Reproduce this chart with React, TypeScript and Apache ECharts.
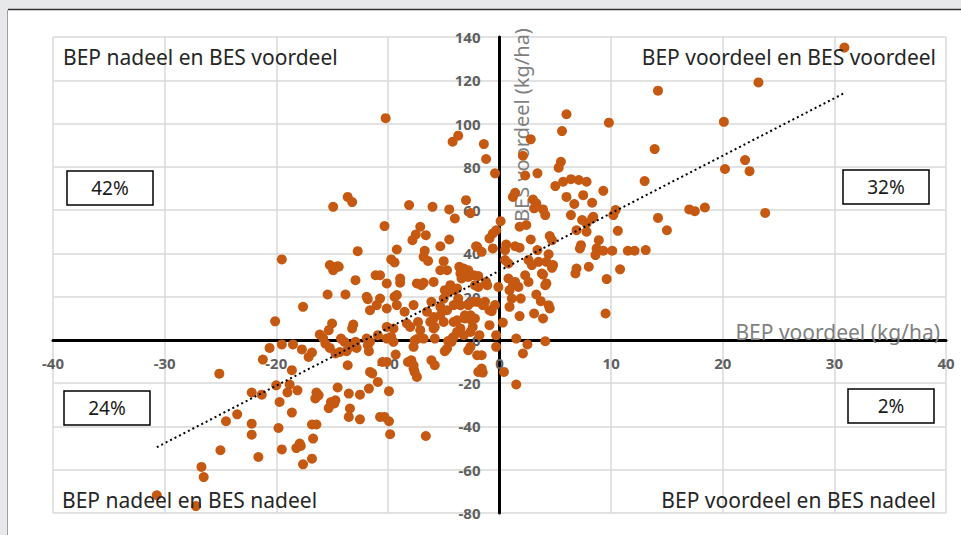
import React, { useEffect, useRef } from "react";
import * as echarts from "echarts";

// BEP voordeel (x, kg/ha) and BES voordeel (y, kg/ha)
const pointsTopRight: [number, number][] = [
  [30.9, 135.1], [23.2, 119.0], [14.2, 115.2], [6.0, 104.3], [9.8, 100.4], [20.1, 100.8], [5.6, 96.5], [2.8, 92.7],
  [13.9, 88.2], [22.0, 83.1], [22.4, 78.0], [20.2, 79.0], [5.5, 82.3], [5.3, 79.6], [3.4, 77.0], [2.1, 85.1],
  [2.3, 76.0], [5.7, 73.1], [6.4, 74.3], [7.1, 73.9], [7.8, 73.1], [5.0, 71.1], [9.3, 68.9], [13.0, 73.4],
  [6.0, 66.1], [7.5, 66.9], [1.4, 68.0], [1.2, 66.1], [3.0, 64.9], [3.3, 63.1], [3.1, 60.8], [3.9, 60.3],
  [4.1, 57.7], [6.7, 62.8], [8.3, 63.4], [6.4, 57.7], [10.4, 60.0], [10.2, 57.7], [17.0, 60.3], [17.5, 59.5],
  [18.4, 61.2], [23.8, 58.7], [14.2, 56.4], [15.0, 50.7], [10.6, 50.4], [0.1, 54.9], [1.8, 52.3], [2.4, 53.1],
  [4.5, 48.0], [7.4, 55.4], [7.8, 53.8], [8.3, 56.1], [6.9, 50.7], [7.8, 50.0], [7.3, 43.8], [7.2, 42.3],
  [8.7, 42.3], [8.9, 46.1], [9.3, 41.2], [10.1, 41.2], [11.5, 41.2], [12.1, 41.2], [13.1, 41.5], [2.8, 46.4],
  [1.4, 43.3], [1.8, 42.6], [0.6, 44.1], [4.4, 39.6], [3.4, 41.5], [4.8, 34.6], [8.0, 33.8], [6.9, 33.0],
  [10.8, 32.6], [6.8, 30.7], [9.6, 28.1], [9.5, 12.2], [4.7, 33.3], [3.9, 30.2], [4.1, 25.3], [3.3, 21.0],
  [3.7, 17.9], [4.4, 16.0], [4.5, 14.5], [3.9, 9.9], [3.1, 12.2], [1.8, 11.0], [1.5, 0.6], [0.3, 8.0],
  [1.2, 25.3], [0.8, 28.4], [1.7, 24.5], [1.1, 19.1], [1.9, 19.1], [0.9, 15.3], [2.6, 26.8], [2.3, 29.9],
  [4.7, 46.1], [8.6, 39.2], [4.2, 36.1], [2.6, 36.9], [2.9, 34.6], [3.5, 36.1], [0.5, 41.5], [0.5, 36.9],
  [0.8, 35.3], [3.8, 30.7], [4.2, 26.1], [1.4, 26.8], [0.9, 23.0], [8.4, 56.9],
];

const pointsTopLeft: [number, number][] = [
  [-10.2, 102.5], [-4.2, 91.6], [-3.7, 94.4], [-1.4, 90.5], [-1.2, 83.6], [-0.4, 77.0], [-14.9, 61.5], [-13.6, 66.1],
  [-13.2, 63.7], [-8.1, 62.3], [-6.0, 61.5], [-4.5, 60.3], [-4.0, 56.1], [-3.0, 64.6], [-2.6, 58.6], [-10.3, 52.6],
  [-7.1, 52.3], [-7.5, 48.7], [-6.6, 48.4], [-7.8, 46.1], [-4.5, 46.4], [-5.3, 43.3], [-12.7, 41.0], [-9.2, 41.8],
  [-6.7, 41.2], [-6.8, 38.4], [-6.4, 36.5], [-9.7, 37.2], [-9.4, 35.8], [-5.0, 36.4], [-2.1, 43.3], [-19.5, 37.2],
  [-15.2, 34.6], [-14.5, 34.1], [-3.6, 33.8], [-0.6, 49.2], [-0.3, 50.7], [-0.9, 46.9], [-0.6, 42.3], [-2.0, 43.0],
  [-1.6, 40.7], [-8.9, 28.4], [-8.9, 26.4], [-10.1, 26.1], [-7.4, 26.1], [-7.0, 25.3], [-6.8, 26.4], [-5.9, 26.8],
  [-5.3, 32.2], [-4.7, 32.2], [-3.2, 33.0], [-3.5, 30.7], [-2.8, 32.2], [-3.4, 28.4], [-2.8, 29.1], [-2.3, 29.9],
  [-1.9, 29.5], [-1.2, 26.8], [-1.1, 25.3], [-0.1, 24.5], [-4.4, 25.3], [-4.9, 23.0], [-4.1, 23.0], [-10.7, 29.9],
  [-1.9, 24.5], [-14.4, 33.8], [-14.9, 32.2], [-12.9, 27.6], [-11.1, 29.9], [-15.4, 21.0], [-13.8, 21.0], [-11.9, 19.9],
  [-11.8, 18.8], [-11.6, 13.7], [-11.0, 16.1], [-17.6, 15.3], [-20.1, 8.6], [-15.0, 7.6], [-15.3, 4.5], [-13.1, 7.1],
  [-13.2, 5.3], [-16.1, 2.5], [-15.8, 0.9], [-14.2, 0.6], [-11.9, 0.6], [-10.1, 6.0], [-10.9, 2.2], [-9.7, 1.4],
  [-10.7, 19.1], [-10.1, 14.5], [-9.2, 16.1], [-9.2, 20.7], [-8.5, 13.0], [-7.7, 16.1], [-6.5, 13.0], [-5.9, 10.6],
  [-5.3, 11.4], [-4.7, 13.7], [-8.0, 6.0], [-8.3, 7.6], [-7.3, 8.3], [-6.2, 8.3], [-5.9, 5.3], [-7.1, 4.5],
  [-7.4, 0.4], [-5.0, 19.1], [-4.6, 22.2], [-3.8, 23.8], [-3.7, 19.1], [-3.5, 16.0], [-4.1, 8.3], [-3.5, 5.3],
  [-3.1, 11.4], [-2.5, 9.1], [-2.4, 17.6], [-2.2, 25.3], [-2.9, 31.5], [-4.1, 1.4], [-5.8, 0.6], [-9.4, 19.9],
  [-6.1, 17.6], [-5.3, 15.3], [-4.1, 16.1], [-2.8, 16.1], [-2.0, 17.6], [-1.5, 16.1], [-0.9, 13.7], [-0.4, 16.1],
  [-0.9, 6.8], [-0.3, 2.2], [-1.3, 17.6], [-0.7, 13.3], [-9.5, 5.3], [-5.9, 9.9], [-5.8, 6.0], [-5.0, 8.3],
  [-3.8, 9.1], [-3.1, 9.9], [-2.6, 11.4], [-2.2, 9.9], [-2.4, 6.0], [-3.8, 3.7], [-3.2, 2.2], [-2.6, 3.7],
  [-1.8, 2.2], [-10.1, 0.6], [-6.8, 0.6], [-4.2, 0.9],
];

const pointsBottomLeft: [number, number][] = [
  [-15.6, -1.7], [-15.2, -3.7], [-13.9, -0.9], [-13.7, -5.2], [-13.4, -3.2], [-14.3, -5.6], [-14.7, -6.3], [-12.9, -0.9],
  [-12.8, -3.7], [-11.8, -2.5], [-11.7, -5.2], [-11.6, -0.9], [-20.6, -3.7], [-19.5, -2.1], [-18.5, -2.1], [-17.7, -4.4],
  [-16.8, -5.8], [-17.1, -7.9], [-21.2, -9.1], [-18.6, -14.0], [-13.6, -11.7], [-11.6, -14.8], [-11.4, -15.5], [-20.0, -21.0],
  [-18.8, -20.6], [-19.0, -24.3], [-18.1, -23.3], [-21.3, -25.3], [-22.2, -24.3], [-19.7, -28.7], [-14.5, -22.0], [-16.4, -24.3],
  [-16.2, -25.6], [-16.5, -27.1], [-13.5, -24.8], [-12.5, -25.3], [-11.7, -22.5], [-15.1, -28.7], [-14.7, -27.9], [-15.3, -31.5],
  [-14.8, -29.4], [-13.4, -31.7], [-13.5, -35.6], [-12.5, -36.7], [-18.6, -33.6], [-22.2, -38.7], [-22.2, -43.8], [-19.8, -40.7],
  [-16.8, -39.1], [-16.4, -39.1], [-16.7, -45.6], [-17.9, -47.9], [-25.1, -15.6], [-23.5, -34.4], [-24.5, -37.6], [-25.0, -51.0],
  [-21.6, -54.1], [-19.5, -50.6], [-18.2, -50.0], [-17.8, -49.0], [-17.6, -57.5], [-16.8, -54.9], [-26.7, -58.7], [-26.5, -63.4],
  [-30.7, -71.8], [-27.2, -76.8], [-10.9, -19.4], [-9.9, -23.7], [-10.7, -35.6], [-10.3, -35.6], [-9.9, -37.6], [-9.8, -43.6],
  [-6.6, -44.4], [-10.5, -10.2], [-10.1, -10.2], [-9.3, -6.8], [-8.2, -10.2], [-7.7, -13.2], [-7.4, -17.1], [-7.9, -9.4],
  [-6.1, -9.4], [-5.8, -11.7], [-9.5, -0.9], [-7.7, -3.2], [-4.7, -4.0], [-4.9, -5.2], [-4.3, -0.9], [-2.8, -4.8],
  [-2.6, -3.2], [-1.9, -14.8], [-0.3, -3.2], [-1.6, -7.1], [-1.5, -15.1], [-7.7, -11.7], [-7.6, -14.8], [-2.0, -7.1],
  [-1.6, -13.2], [-4.6, -0.5], [-7.6, -0.3],
];

const pointsBottomRight: [number, number][] = [
  [4.1, -0.6], [2.5, -2.1], [2.1, -6.3], [1.5, -20.6], [0.4, -14.8],
];

// Linear trend line end points
const trendX = [-30.7, 30.9];
const trendY = [-49.6, 114.1];

// Axis ranges
const xMin = -40, xMax = 40, xStep = 10;
const yMin = -80, yMax = 140, yStep = 20;

const quadrantTitles = [
  "BEP nadeel en BES voordeel",
  "BEP voordeel en BES voordeel",
  "BEP nadeel en BES nadeel",
  "BEP voordeel en BES nadeel",
];
const quadrantShares = ["42%", "32%", "24%", "2%"];
const xAxisTitle = "BEP voordeel (kg/ha)";
const yAxisTitle = "BES voordeel (kg/ha)";

const FONT = "Noto Sans";
const W = 961, H = 535;
const GRID = { left: 53, right: 15, top: 37, bottom: 22 };

export default function App() {
  const ref = useRef<HTMLDivElement>(null);
  useEffect(() => {
    if (!ref.current) return;
    const chart = echarts.init(ref.current, null, { renderer: "svg" });
    const points = [...pointsTopLeft, ...pointsTopRight, ...pointsBottomLeft, ...pointsBottomRight];
    const trend = trendX.map((x, i) => [x, trendY[i]]);

    // move the axes (line + labels) onto the zero cross via offset
    const gridW = W - GRID.left - GRID.right;
    const gridH = H - GRID.top - GRID.bottom;
    const xAxisOffset = -(gridH * (0 - yMin)) / (yMax - yMin);
    const yAxisOffset = -(gridW * (0 - xMin)) / (xMax - xMin);

    const box = (x: number, y: number, label: string) => ({
      type: "group",
      z: 100,
      children: [
        { type: "rect", shape: { x, y, width: 86, height: 34 }, style: { fill: "#fff", stroke: "#000", lineWidth: 1.5 }, z: 100 },
        {
          type: "text",
          x: x + 43,
          y: y + 17,
          z: 101,
          style: { text: label, fill: "#1a1a1a", font: `19px "${FONT}"`, align: "center", verticalAlign: "middle" },
        },
      ],
    });
    const qtext = (x: number, y: number, label: string, align: string) => ({
      type: "text",
      x,
      y,
      z: 100,
      style: { text: label, fill: "#262626", font: `21px "${FONT}"`, align, verticalAlign: "middle" },
    });

    chart.setOption({
      animation: false,
      backgroundColor: "#e7e8ea",
      textStyle: { fontFamily: FONT },
      grid: { ...GRID, containLabel: false },
      xAxis: {
        type: "value",
        min: xMin,
        max: xMax,
        interval: xStep,
        position: "bottom",
        offset: xAxisOffset,
        axisLine: { onZero: false, lineStyle: { color: "#000", width: 3 } },
        axisTick: { show: false },
        axisLabel: { color: "#5f5f5f", fontSize: 15, margin: 16, fontFamily: FONT, fontWeight: "bold" },
        splitLine: { show: true, lineStyle: { color: "#d9d9d9", width: 1.5 } },
      },
      yAxis: {
        type: "value",
        min: yMin,
        max: yMax,
        interval: yStep,
        position: "left",
        offset: yAxisOffset,
        axisLine: { onZero: false, lineStyle: { color: "#000", width: 3 } },
        axisTick: { show: false },
        axisLabel: { color: "#5f5f5f", fontSize: 15, margin: 19, fontFamily: FONT, fontWeight: "bold" },
        splitLine: { show: true, lineStyle: { color: "#d9d9d9", width: 1.5 } },
      },
      graphic: [
        { type: "rect", z: -100, silent: true, shape: { x: 8, y: 10, width: 953, height: 525 }, style: { fill: "#fff" } },
        { type: "line", z: -99, shape: { x1: 8, y1: 9.5, x2: 961, y2: 9.5 }, style: { stroke: "#333", lineWidth: 1.5 } },
        { type: "line", z: -99, shape: { x1: 7.5, y1: 10, x2: 7.5, y2: 535 }, style: { stroke: "#a0a0a0", lineWidth: 1 } },
        qtext(63, 57, quadrantTitles[0], "left"),
        qtext(936, 57, quadrantTitles[1], "right"),
        qtext(62, 500, quadrantTitles[2], "left"),
        qtext(936, 500, quadrantTitles[3], "right"),
        box(67, 171, quadrantShares[0]),
        box(843, 170, quadrantShares[1]),
        box(64, 391, quadrantShares[2]),
        box(848, 389, quadrantShares[3]),
        {
          type: "text",
          x: 940,
          y: 332,
          z: 1,
          style: { text: xAxisTitle, fill: "#7f7f7f", font: `21px "${FONT}"`, align: "right", verticalAlign: "middle" },
        },
        {
          type: "text",
          x: 521,
          y: 125,
          rotation: Math.PI / 2,
          z: 1,
          style: { text: yAxisTitle, fill: "#7f7f7f", font: `20px "${FONT}"`, align: "center", verticalAlign: "middle" },
        },
      ],
      series: [
        {
          type: "scatter",
          data: points,
          symbol: "circle",
          symbolSize: 10,
          itemStyle: { color: "#C65911", opacity: 1 },
          z: 3,
        },
        {
          type: "line",
          data: trend,
          symbol: "none",
          lineStyle: { color: "#000", width: 2, type: [2, 3] },
          z: 4,
        },
      ],
    });
    return () => chart.dispose();
  }, []);
  return <div ref={ref} style={{ position: "absolute", left: 0, top: 0, width: W, height: H }} />;
}
